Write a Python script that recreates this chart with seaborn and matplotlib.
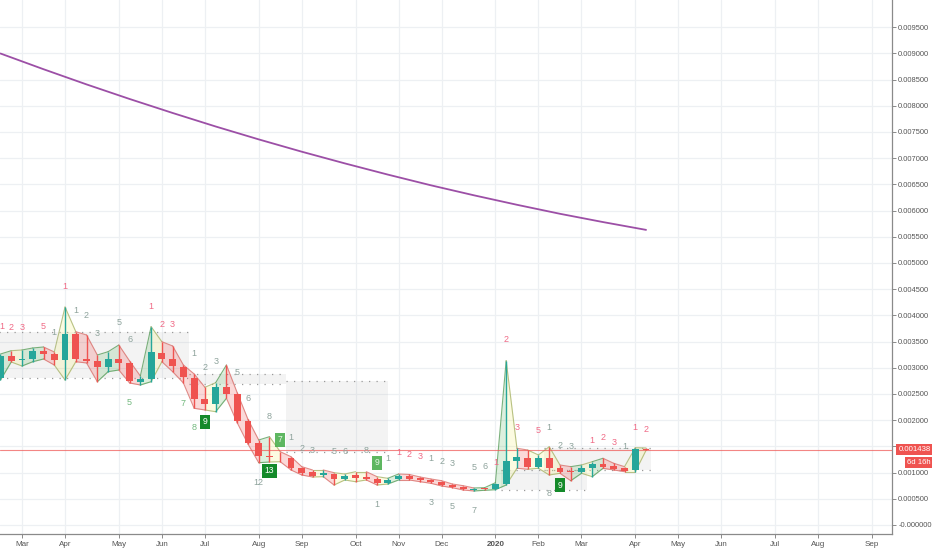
import matplotlib
matplotlib.use("Agg")
import matplotlib.pyplot as plt
import matplotlib.transforms as mtransforms
import numpy as np
import seaborn as sns

# ---------------- data (weekly candles, week 0 = 2019-03-04) ----------------
weeks = list(range(-2, 59))
opens = [0.002805, 0.003231, 0.003149, 0.003168, 0.003315, 0.003258, 0.003149, 0.003645,
         0.003174, 0.003130, 0.003010, 0.003168, 0.003086, 0.002735, 0.002786, 0.003288,
         0.003174, 0.003021, 0.002800, 0.002405, 0.002303, 0.002628, 0.002500, 0.001990,
         0.001571, 0.001326, 0.001307, 0.001273, 0.001082, 0.001006, 0.000954, 0.000968,
         0.000884, 0.000948, 0.000922, 0.000872, 0.000807, 0.000872, 0.000935, 0.000891,
         0.000859, 0.000826, 0.000763, 0.000731, 0.000668, 0.000700, 0.000693, 0.000782,
         0.001227, 0.001284, 0.001113, 0.001284, 0.001094, 0.001031, 0.001017, 0.001094,
         0.001164, 0.001132, 0.001094, 0.001050, 0.001455]
highs = [0.003263, 0.003326, 0.003340, 0.003378, 0.003397, 0.003302, 0.004160, 0.003689,
         0.003626, 0.003244, 0.003307, 0.003435, 0.003130, 0.002844, 0.003784, 0.003498,
         0.003416, 0.003053, 0.002882, 0.002628, 0.002716, 0.003053, 0.002525, 0.002017,
         0.001622, 0.001685, 0.001399, 0.001303, 0.001113, 0.001050, 0.001050, 0.000998,
         0.000973, 0.001017, 0.001017, 0.000922, 0.000891, 0.000973, 0.000964, 0.000916,
         0.000878, 0.000845, 0.000782, 0.000750, 0.000706, 0.000712, 0.000807, 0.003135,
         0.001464, 0.001431, 0.001336, 0.001494, 0.001145, 0.001113, 0.001145, 0.001208,
         0.001273, 0.001177, 0.001113, 0.001475, 0.001470]
lows = [0.002767, 0.003111, 0.003034, 0.003116, 0.003168, 0.003053, 0.002767, 0.003116,
        0.003092, 0.002735, 0.002926, 0.002958, 0.002710, 0.002672, 0.002735, 0.003116,
        0.002926, 0.002710, 0.002227, 0.002195, 0.002162, 0.002418, 0.001952, 0.001546,
        0.001189, 0.001202, 0.001208, 0.001050, 0.000954, 0.000916, 0.000922, 0.000763,
        0.000859, 0.000826, 0.000859, 0.000763, 0.000782, 0.000859, 0.000859, 0.000826,
        0.000796, 0.000744, 0.000712, 0.000668, 0.000649, 0.000662, 0.000674, 0.000763,
        0.001082, 0.001063, 0.001082, 0.000954, 0.000987, 0.000845, 0.000987, 0.000922,
        0.001082, 0.001050, 0.001017, 0.001017, 0.001425]
closes = [0.003231, 0.003135, 0.003168, 0.003321, 0.003263, 0.003149, 0.003651, 0.003168,
          0.003124, 0.003015, 0.003168, 0.003086, 0.002754, 0.002792, 0.003296, 0.003174,
          0.003034, 0.002830, 0.002405, 0.002303, 0.002628, 0.002500, 0.001990, 0.001571,
          0.001317, 0.001307, 0.001288, 0.001082, 0.000987, 0.000941, 0.000987, 0.000878,
          0.000941, 0.000897, 0.000884, 0.000796, 0.000859, 0.000941, 0.000884, 0.000853,
          0.000821, 0.000763, 0.000731, 0.000687, 0.000687, 0.000681, 0.000788, 0.001227,
          0.001292, 0.001113, 0.001284, 0.001082, 0.001017, 0.001017, 0.001094, 0.001164,
          0.001113, 0.001074, 0.001036, 0.001455, 0.001438]

# long moving average (purple)
ma_weeks = [-2, 2, 6, 10, 14, 18, 22, 26, 30, 34, 38, 42, 46, 50, 54, 58]
ma_values = [0.008998, 0.008698, 0.008408, 0.008130, 0.007863, 0.007605, 0.007359, 0.007124,
             0.006901, 0.006687, 0.006483, 0.006292, 0.006111, 0.005939, 0.005781, 0.005632]

# TD setup support / resistance zones
zone_start = [-2.5, 15.5, 24.5, 44.5, 48.5]
zone_end = [15.5, 24.5, 34.0, 52.5, 58.5]
zone_top = [0.003683, 0.002882, 0.002748, 0.001050, 0.001469]
zone_bottom = [0.002799, 0.002691, 0.001400, 0.000668, 0.001050]

# TD sequential counts: (week, price position, text, kind)
td_weeks = [-1.85, -1, 0, 2, 4, 12, 13, 14, 35, 36, 37, 44, 45, 46, 48, 53, 54, 55, 57, 58,
            3, 5, 6, 7, 9, 10, 16, 17, 18, 20, 21, 23, 25, 26, 27, 29, 30, 32, 34, 38, 39, 40,
            42, 43, 49, 50, 51, 56,
            33, 38, 40, 42, 22, 49,
            10, 15, 16,
            17, 23, 24, 33, 50]
td_prices = [0.003779, 0.003760, 0.003760, 0.003779, 0.004542, 0.004179, 0.003817, 0.003817,
             0.001374, 0.001336, 0.001298, 0.001183, 0.003531, 0.001851, 0.001794, 0.001603,
             0.001679, 0.001565, 0.001870, 0.001813,
             0.003683, 0.004084, 0.003989, 0.003645, 0.003855, 0.003531, 0.003282, 0.003015,
             0.003111, 0.002901, 0.002405, 0.002061, 0.001679, 0.001469, 0.001431, 0.001393,
             0.001393, 0.001412, 0.001260, 0.001260, 0.001221, 0.001164, 0.001088, 0.001107,
             0.001870, 0.001508, 0.001489, 0.001489,
             0.000382, 0.000420, 0.000344, 0.000267, 0.000802, 0.000592,
             0.002347, 0.002309, 0.001851,
             0.001966, 0.001031, 0.001622, 0.001183, 0.000763]
td_texts = ["1", "2", "3", "5", "1", "1", "2", "3", "1", "2", "3", "1", "2", "3", "5", "1",
            "2", "3", "1", "2",
            "1", "1", "2", "3", "5", "6", "1", "2", "3", "5", "6", "8", "1", "2", "3", "5",
            "6", "8", "1", "1", "2", "3", "5", "6", "1", "2", "3", "1",
            "1", "3", "5", "7", "12", "8",
            "5", "7", "8",
            "9", "13", "7", "9", "9"]
td_kinds = ["sell"] * 20 + ["count"] * 28 + ["count"] * 6 + ["buy"] * 3 + \
           ["box", "box", "boxlight", "boxlight", "box"]

last_price = 0.001438
tick_weeks = [0, 4, 9, 13, 17, 22, 26, 31, 35, 39, 44, 48, 52, 57, 61, 65, 70, 74, 79]
tick_labels = ["Mar", "Apr", "May", "Jun", "Jul", "Aug", "Sep", "Oct", "Nov", "Dec",
               "2020", "Feb", "Mar", "Apr", "May", "Jun", "Jul", "Aug", "Sep"]
ytick_values = [i * 0.0005 for i in range(20)]

# ---------------- styling ----------------
sns.set_theme(style="white")
plt.rcParams["font.family"] = ["Liberation Sans", "DejaVu Sans"]

UP = "#26a69a"
DOWN = "#ef5350"
GRID = "#edf0f3"

fig = plt.figure(figsize=(9.32, 5.5), dpi=100)
ax = fig.add_axes([0.0, 1 - 534 / 550, 892 / 932, 534 / 550])
ax.set_facecolor("white")

ax.set_xlim(-2.045, 80.86)
ax.set_ylim(-0.000172, 0.010019)

# grid
for yv in ytick_values:
    ax.axhline(yv, color=GRID, lw=0.9, zorder=0)
for xv in tick_weeks:
    ax.axvline(xv, color=GRID, lw=0.9, zorder=0)

# support / resistance zones
for s, e, t, b in zip(zone_start, zone_end, zone_top, zone_bottom):
    ax.fill_between([s, e], [b, b], [t, t], color="#b0b0b0", alpha=0.14, lw=0, zorder=1)
    ax.plot([s, e], [t, t], color="#9a9a9a", lw=0.9, ls=(0, (1, 5)), zorder=1)
    ax.plot([s, e], [b, b], color="#9a9a9a", lw=0.9, ls=(0, (1, 5)), zorder=1)

# high/low cloud coloured by bar structure
w = np.array(weeks, dtype=float)
hi = np.array(highs)
lo = np.array(lows)
for i in range(1, len(w)):
    up_h = hi[i] > hi[i - 1]
    up_l = lo[i] > lo[i - 1]
    if up_h and up_l:
        fc, ec = "#66bb6a", "#5a9e5c"
    elif (not up_h) and (not up_l):
        fc, ec = "#ef5350", "#d9706c"
    else:
        fc, ec = "#f3ef7a", "#a7b36a"
    xs = [w[i - 1], w[i]]
    ax.fill_between(xs, [lo[i - 1], lo[i]], [hi[i - 1], hi[i]], color=fc, alpha=0.22,
                    lw=0, zorder=2)
    ax.plot(xs, [hi[i - 1], hi[i]], color=ec, lw=0.8, alpha=0.8, zorder=2)
    ax.plot(xs, [lo[i - 1], lo[i]], color=ec, lw=0.8, alpha=0.8, zorder=2)

# moving average
sns.lineplot(x=ma_weeks, y=ma_values, ax=ax, color="#9c4fa6", lw=1.3, zorder=3)

# last price line
ax.axhline(last_price, color="#ef5350", lw=0.8, alpha=0.7, zorder=3)

# candles
o = np.array(opens)
c = np.array(closes)
cols = [UP if cc >= oo else DOWN for oo, cc in zip(o, c)]
ax.vlines(w, lo, hi, colors=cols, lw=1.0, zorder=4)
body_bottom = np.minimum(o, c)
body_h = np.maximum(np.abs(c - o), 0.000012)
ax.bar(w, body_h, bottom=body_bottom, width=0.64, color=cols, lw=0, zorder=5)

# TD sequential labels
for x, y, t, k in zip(td_weeks, td_prices, td_texts, td_kinds):
    if k == "sell":
        ax.text(x, y, t, color="#f06a86", fontsize=6.5, ha="center", va="center", zorder=6)
    elif k == "count":
        ax.text(x, y, t, color="#8ea39c", fontsize=6.5, ha="center", va="center", zorder=6)
    elif k == "buy":
        ax.text(x, y, t, color="#73b97f", fontsize=6.5, ha="center", va="center", zorder=6)
    elif k == "box":
        ax.text(x, y, t, color="white", fontsize=6.2, ha="center", va="center", zorder=7,
                bbox=dict(boxstyle="square,pad=0.28", fc="#148a2a", ec="none"))
    else:
        ax.text(x, y, t, color="#e8f5e8", fontsize=6.2, ha="center", va="center", zorder=7,
                bbox=dict(boxstyle="square,pad=0.28", fc="#4caf50", ec="none", alpha=0.9))

# axes / ticks
for side in ["left", "top"]:
    ax.spines[side].set_visible(False)
ax.spines["right"].set_color("#8a8a8a")
ax.spines["bottom"].set_color("#8a8a8a")
ax.spines["right"].set_linewidth(0.9)
ax.spines["bottom"].set_linewidth(0.9)

ax.yaxis.tick_right()
ax.set_yticks(ytick_values)
ylabels = [f"{v:.6f}" for v in ytick_values]
ylabels[0] = "-0.000000"
ylabels[3] = ""   # hidden behind the last-price tag in the reference
ax.set_yticklabels(ylabels)
ax.set_xticks(tick_weeks)
ax.set_xticklabels(tick_labels)
ax.tick_params(axis="y", which="both", right=True, left=False, length=3, width=0.7,
               color="#8a8a8a", labelsize=5.4, labelcolor="#555555", pad=1.5)
ax.tick_params(axis="x", which="both", bottom=True, length=3, width=0.7,
               color="#8a8a8a", labelsize=5.8, labelcolor="#555555", pad=2)
for lab in ax.get_xticklabels():
    if lab.get_text() == "2020":
        lab.set_fontweight("bold")
ax.set_xlabel("")
ax.set_ylabel("")

# last price tag + countdown
trans = mtransforms.blended_transform_factory(fig.transFigure, ax.transData)
ax.text(0.9985, last_price, "0.001438", transform=trans, ha="right", va="center",
        color="white", fontsize=5.6, zorder=10, clip_on=False,
        bbox=dict(boxstyle="square,pad=0.25", fc="#ef5350", ec="none"))
ax.annotate("6d 16h", xy=(0.9985, last_price), xycoords=trans, xytext=(0, -9.5),
            textcoords="offset points", ha="right", va="center", color="white",
            fontsize=5.6, zorder=10, annotation_clip=False,
            bbox=dict(boxstyle="square,pad=0.25", fc="#ef5350", ec="none"))

fig.savefig("out.png", dpi=100)
